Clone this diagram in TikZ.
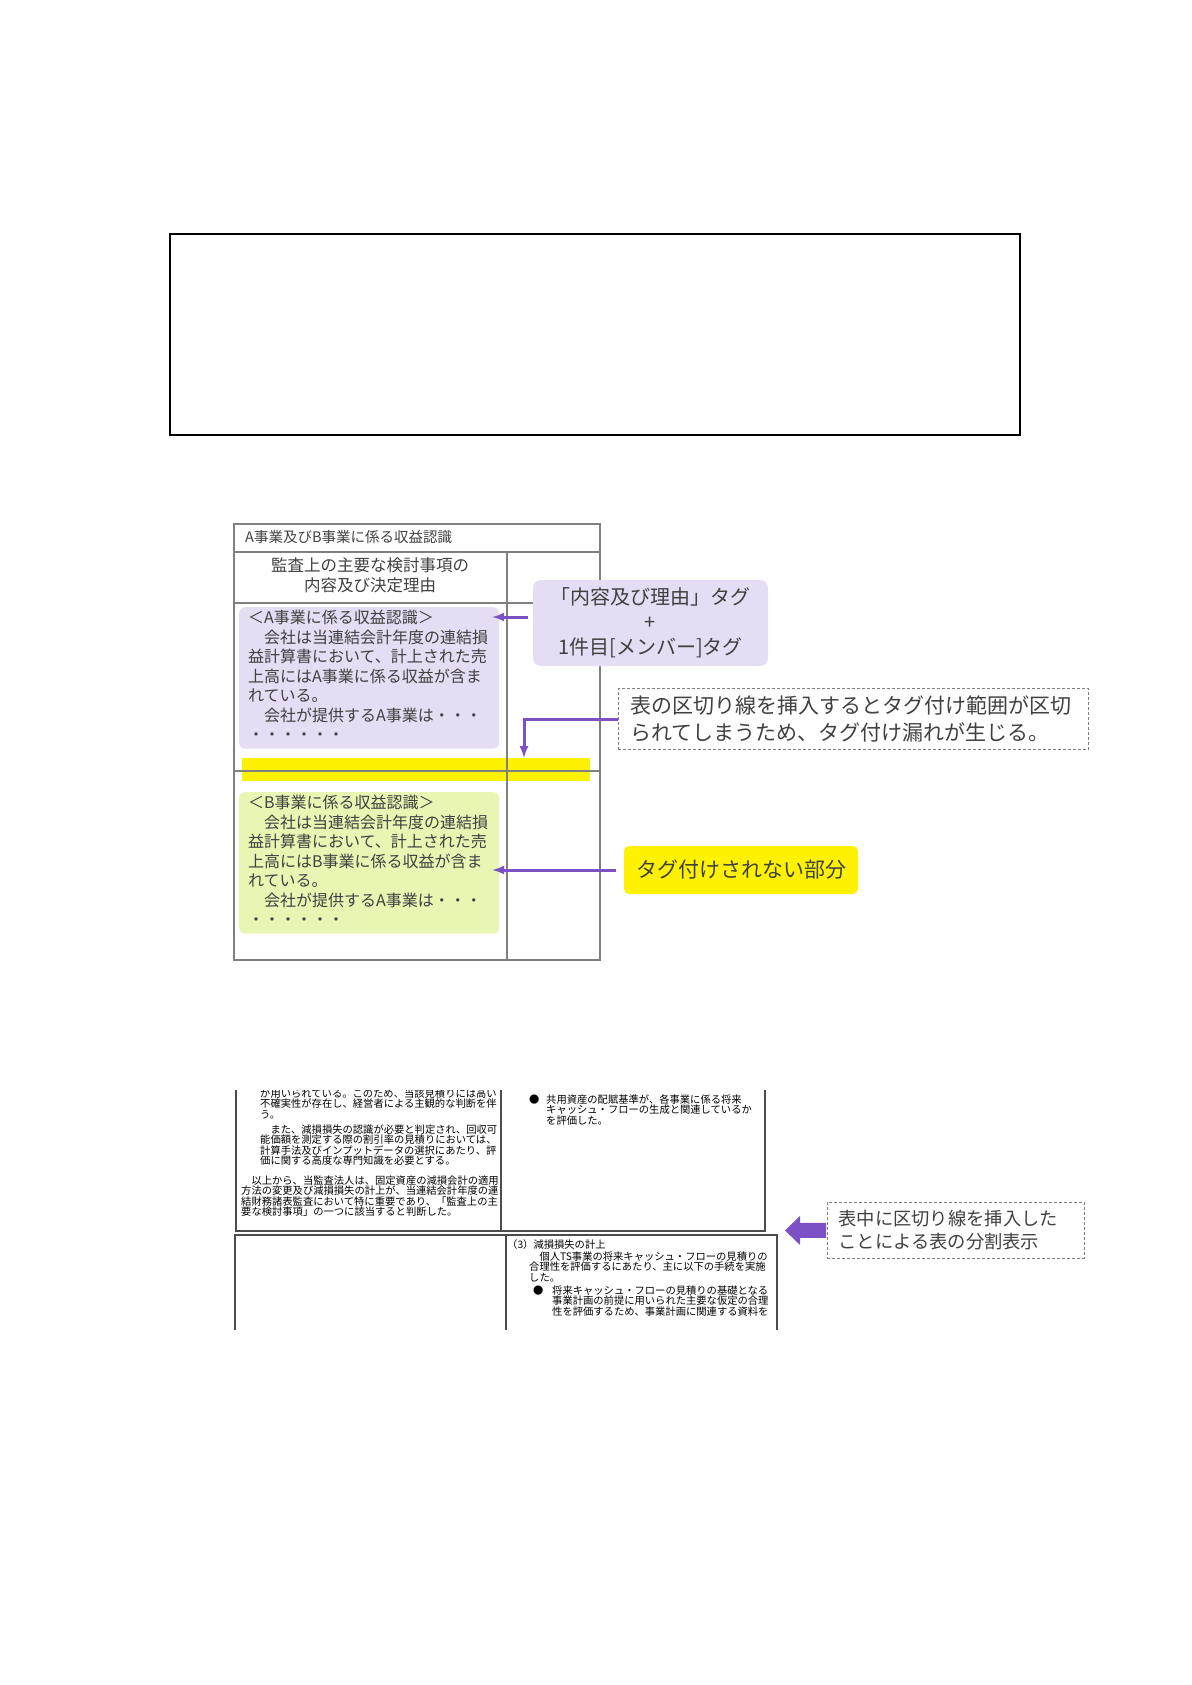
\documentclass[tikz,border=0pt]{standalone}
\usepackage{fontspec}
\setmainfont{Noto Sans CJK JP}
\usetikzlibrary{positioning}
\usetikzlibrary{arrows.meta}
\definecolor{tagpurple}{HTML}{7B51C5}
\definecolor{tagfilla}{HTML}{E4DDF3}
\definecolor{tagfillb}{HTML}{E8F6B4}
\definecolor{inkgray}{HTML}{404040}
\definecolor{rulegray}{HTML}{808080}
\tikzset{
    tabline/.style = {draw=rulegray, line width=1.4pt},
    scanline/.style = {draw=black!70, line width=1.3pt},
    cutband/.style = {rectangle, fill=yellow, inner sep=0pt, minimum width=348pt, minimum height=23pt},
    hdtext/.style = {inner sep=0pt, text=inkgray, font=\fontsize{14.5}{18}\selectfont},
    colhead/.style = {inner sep=0pt, align=center, text=inkgray, font=\fontsize{16.5}{20}\selectfont},
    cella/.style = {rectangle, rounded corners=6pt, fill=tagfilla, text=inkgray, align=left, text width=242pt,
                    inner xsep=9pt, inner ysep=3pt, anchor=north west, font=\fontsize{16}{19.5}\selectfont},
    cellb/.style = {cella, fill=tagfillb},
    tagnode/.style = {rectangle, rounded corners=8pt, fill=tagfilla, text=inkgray, align=center,
                      minimum width=235pt, minimum height=86pt, font=\fontsize{20}{25}\selectfont},
    tagnodey/.style = {tagnode, fill=yellow, rounded corners=5pt, minimum width=234pt, minimum height=48pt,
                       font=\fontsize{21}{25}\selectfont},
    notenode/.style = {rectangle, draw=rulegray, dash pattern=on 3pt off 2pt, line width=0.9pt, text=inkgray,
                       align=left, anchor=north west, inner xsep=12pt, inner ysep=7.5pt},
    scantext/.style = {inner sep=0pt, anchor=north west, align=left, text=black,
                       font=\fontsize{10.3}{10.5}\selectfont},
    edgep/.style = {-latex, line width=3pt, tagpurple}, % tag arrows
}
\begin{document}
\begin{tikzpicture}[x=1pt, y=-1pt]
  \useasboundingbox (0,0) rectangle (1191,1685);
  % empty frame
  \draw[line width=1.3pt] (170,234) rectangle (1020,435);
  % table with the cut line
  \node[cutband] (cut) at (416,769.5) {};
  \draw[tabline] (234,524) rectangle (600,960);
  \draw[tabline] (234,552) -- (600,552) (234,603) -- (600,603) (234,771) -- (600,771) (507,552) -- (507,960);
  \node[hdtext, anchor=west] (title) at (245,537) {A事業及びB事業に係る収益認識};
  \node[colhead] (head) at (370,575) {監査上の主要な検討事項の\\内容及び決定理由};
  \node[cella] (boxa) at (239,607) {＜A事業に係る収益認識＞\\
    　会社は当連結会計年度の連結損\\益計算書において、計上された売\\上高にはA事業に係る収益が含ま\\れている。\\
    　会社が提供するA事業は・・・\\・・・・・・\rule[-5pt]{0pt}{5pt}};
  \node[cellb] (boxb) at (239,792) {＜B事業に係る収益認識＞\\
    　会社は当連結会計年度の連結損\\益計算書において、計上された売\\上高にはB事業に係る収益が含ま\\れている。\\
    　会社が提供するA事業は・・・\\・・・・・・\rule[-5pt]{0pt}{5pt}};
  \node[tagnode] (taga) at (650.5,623) {「内容及び理由」タグ\\+\\1件目[メンバー]タグ};
  \node[notenode, text width=446pt, font=\fontsize{21}{27}\selectfont] (note1) at (618,688)
    {表の区切り線を挿入するとタグ付け範囲が区切\\られてしまうため、タグ付け漏れが生じる。};
  \node[tagnodey] (tagy) at (741,870) {タグ付けされない部分};
  \draw[edgep, shorten <=5pt, shorten >=-7pt] ([yshift=6pt]taga.west) -- ([yshift=6pt]taga.west -| boxa.east);
  \draw[edgep] (note1.west) -| ([xshift=108pt]cut.north);
  \draw[edgep, shorten <=8pt, shorten >=-7pt] (tagy.west) -- (tagy.west -| boxb.east);
  % scanned table split in two
  \begin{scope}
    \clip (225,1090) rectangle (800,1329);
    \draw[scanline] (236,1080) -- (236,1231) -- (765,1231) -- (765,1080) (501,1080) -- (501,1231);
    \draw[scanline] (235,1340) -- (235,1235) -- (777,1235) -- (777,1340) (506,1235) -- (506,1340);
    \node[scantext] (scana) at (260,1088.3) {が用いられている。このため、当該見積りには高い\\
      不確実性が存在し、経営者による主観的な判断を伴\\う。\\[4.5pt]
      　また、減損損失の認識が必要と判定され、回収可\\能価額を測定する際の割引率の見積りにおいては、\\
      計算手法及びインプットデータの選択にあたり、評\\価に関する高度な専門知識を必要とする。};
    \node[scantext] (scanb) at (241,1175.3) {　以上から、当監査法人は、固定資産の減損会計の適用\\
      方法の変更及び減損損失の計上が、当連結会計年度の連\\結財務諸表監査において特に重要であり、「監査上の主\\
      要な検討事項」の一つに該当すると判断した。};
    \node[scantext] (dotc) at (529,1094.3) {●};
    \node[scantext] (scanc) at (546,1094.3) {共用資産の配賦基準が、各事業に係る将来\\
      キャッシュ・フローの生成と関連しているか\\を評価した。};
    \node[scantext] (scand) at (507,1239.3) {（3）減損損失の計上};
    \node[scantext] (scane) at (529,1251.3) {　個人TS事業の将来キャッシュ・フローの見積りの\\
      合理性を評価するにあたり、主に以下の手続を実施\\した。};
    \node[scantext] (dotf) at (533,1285.3) {●};
    \node[scantext] (scanf) at (552,1285.3) {将来キャッシュ・フローの見積りの基礎となる\\
      事業計画の前提に用いられた主要な仮定の合理\\性を評価するため、事業計画に関連する資料を};
  \end{scope}
  \node[notenode, text width=235pt, inner xsep=11pt, minimum height=56pt, font=\fontsize{18.3}{23}\selectfont]
    (note2) at (827,1202) {表中に区切り線を挿入した\\ことによる表の分割表示};
  \fill[tagpurple] (note2.west) ++(-1pt,7.5pt) -- ++(-26pt,0pt) -- ++(0pt,7pt) -- ++(-15pt,-14.5pt)
    -- ++(15pt,-14.5pt) -- ++(0pt,7pt) -- ++(26pt,0pt) -- cycle;
\end{tikzpicture}
\end{document}
